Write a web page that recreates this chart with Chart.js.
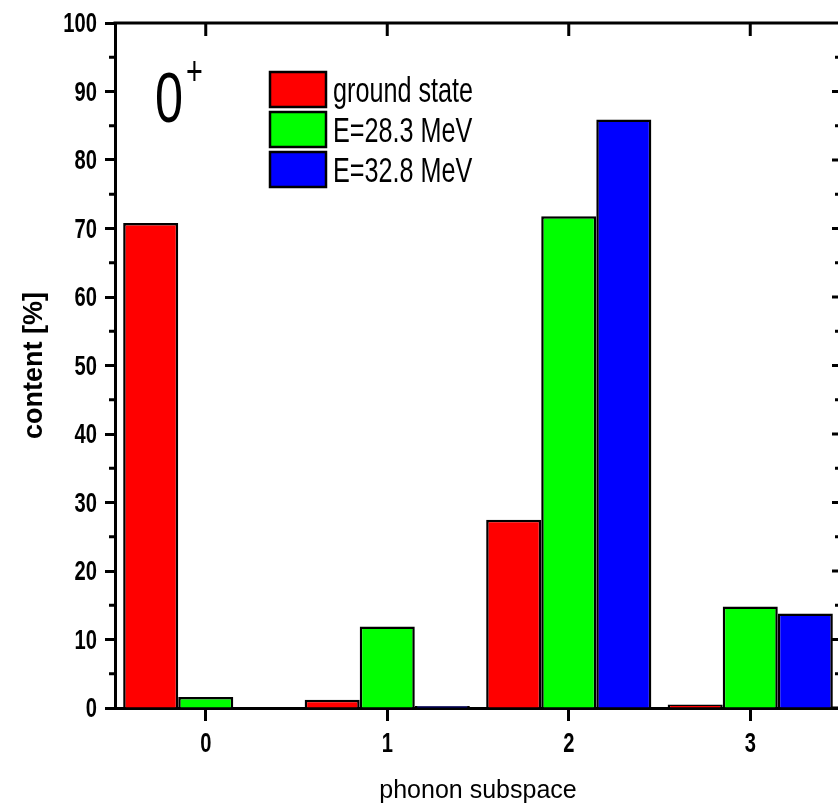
<!DOCTYPE html>
<html>
<head>
<meta charset="utf-8">
<title>phonon subspace content</title>
<script src="https://cdn.jsdelivr.net/npm/chart.js@4.4.1/dist/chart.umd.min.js"></script>
<style>
  html, body { margin: 0; padding: 0; background: #fff; overflow: hidden; }
  canvas { display: block; }
</style>
</head>
<body>
<canvas id="chart" width="850" height="810"></canvas>
<script>
const subspaces = ['0', '1', '2', '3'];
const groundState = [70.8, 1.2, 27.5, 0.5];
const state283 = [1.6, 11.9, 71.8, 14.8];
const state328 = [0, 0.3, 85.9, 13.8];
const seriesNames = ['ground state', 'E=28.3 MeV', 'E=32.8 MeV'];
const seriesColors = ['#ff0000', '#00ff00', '#0000ff'];
const yMin = 0, yMax = 100, yStep = 10;

const sans = "'Liberation Sans', Arial, sans-serif";
const squeeze = 0.72;

// text squeezed sideways, like the narrow lettering of the rest of the plot
function drawSqueezed(ctx, text, x, y, font, align) {
    ctx.save();
    ctx.translate(x, y);
    ctx.scale(squeeze, 1);
    ctx.font = font;
    ctx.textAlign = align || 'left';
    ctx.fillText(text, 0, 0);
    ctx.restore();
}

// closed frame: top and right axes with inward ticks, minor ticks on y,
// narrow tick labels, the state label and the legend
const framePlugin = {
    id: 'frame',
    afterDatasetsDraw(chart) {
        const ctx = chart.ctx;
        const area = chart.chartArea;
        const x = chart.scales.x, y = chart.scales.y;
        ctx.save();
        ctx.strokeStyle = '#000';
        ctx.lineWidth = 3;
        ctx.beginPath();
        ctx.moveTo(area.left - 1.5, area.top);
        ctx.lineTo(area.right, area.top);
        ctx.lineTo(area.right, area.bottom);
        x.ticks.forEach((t, i) => {
            const px = x.getPixelForTick(i);
            ctx.moveTo(px, area.top);
            ctx.lineTo(px, area.top + 13);
        });
        y.ticks.forEach(t => {
            const py = y.getPixelForValue(t.value);
            ctx.moveTo(area.right, py);
            ctx.lineTo(area.right - 9, py);
        });
        for (let v = yMin + yStep / 2; v < yMax; v += yStep) {
            const py = y.getPixelForValue(v);
            ctx.moveTo(area.left, py);
            ctx.lineTo(area.left - 6, py);
            ctx.moveTo(area.right, py);
            ctx.lineTo(area.right - 6, py);
        }
        ctx.stroke();
        ctx.restore();
    },
    afterDraw(chart) {
        const ctx = chart.ctx;
        const area = chart.chartArea;
        const x = chart.scales.x, y = chart.scales.y;
        const tickFont = 'bold 28px ' + sans;
        ctx.save();
        ctx.fillStyle = '#000';
        ctx.textBaseline = 'alphabetic';

        y.ticks.forEach(t => {
            drawSqueezed(ctx, String(t.value), area.left - 18, y.getPixelForValue(t.value) + 9, tickFont, 'right');
        });
        x.ticks.forEach((t, i) => {
            drawSqueezed(ctx, x.getLabelForValue(t.value), x.getPixelForTick(i), area.bottom + 43.5, tickFont, 'center');
        });

        // state label
        drawSqueezed(ctx, '0', 155, 122, '70px ' + sans);
        drawSqueezed(ctx, '+', 186, 85, '40px ' + sans);

        // legend boxes
        chart.data.datasets.forEach((ds, i) => {
            const top = 72 + i * 40;
            ctx.fillStyle = ds.backgroundColor;
            ctx.fillRect(270, top, 56, 35);
            ctx.strokeStyle = '#000';
            ctx.lineWidth = 2.5;
            ctx.strokeRect(270, top, 56, 35);
            ctx.fillStyle = '#000';
            drawSqueezed(ctx, ds.label, 333, top + 30, '35px ' + sans);
        });
        ctx.restore();
    }
};

new Chart(document.getElementById('chart'), {
    type: 'bar',
    data: {
        labels: subspaces,
        datasets: [groundState, state283, state328].map((values, i) => ({
            label: seriesNames[i],
            data: values,
            backgroundColor: seriesColors[i],
            borderColor: '#000',
            borderWidth: 2.5
        }))
    },
    options: {
        responsive: false,
        animation: false,
        layout: { padding: { top: 23, right: 9, left: 0, bottom: 0 } },
        datasets: { bar: { barPercentage: 1, categoryPercentage: 0.91 } },
        plugins: {
            legend: { display: false },
            tooltip: { enabled: false }
        },
        scales: {
            x: {
                offset: true,
                grid: { display: true, drawOnChartArea: false, offset: false, tickLength: 13, tickWidth: 3, tickColor: '#000' },
                border: { display: true, color: '#000', width: 3 },
                ticks: { display: false },
                title: {
                    display: true,
                    text: 'phonon subspace',
                    color: '#000',
                    font: { family: sans, size: 25 },
                    padding: { top: 0, bottom: 4 }
                },
                afterFit(scale) { scale.height = 102; }
            },
            y: {
                min: yMin,
                max: yMax,
                grid: { display: true, drawOnChartArea: false, tickLength: 10, tickWidth: 3, tickColor: '#000' },
                border: { display: true, color: '#000', width: 3 },
                ticks: { display: false, stepSize: yStep },
                title: {
                    display: true,
                    text: 'content [%]',
                    color: '#000',
                    font: { family: sans, size: 27, weight: 'bold' },
                    padding: { top: 18, bottom: 0 }
                },
                afterFit(scale) { scale.width = 115; }
            }
        }
    },
    plugins: [framePlugin]
});
</script>
</body>
</html>
